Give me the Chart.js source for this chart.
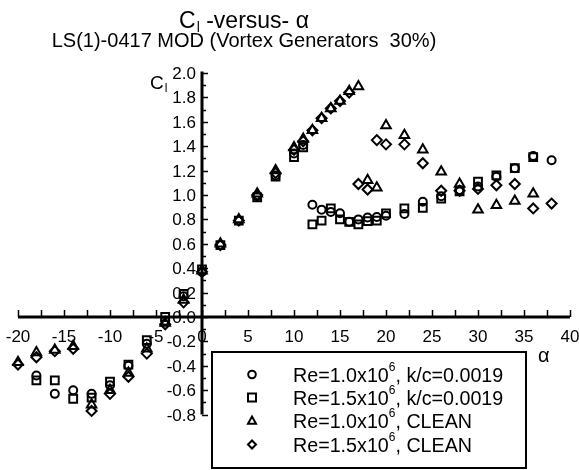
<!DOCTYPE html>
<html>
<head>
<meta charset="utf-8">
<script src="https://cdn.jsdelivr.net/npm/chart.js@4.4.1/dist/chart.umd.min.js"></script>
<style>
  html, body { margin: 0; padding: 0; background: #fff; }
  #wrap { width: 579px; height: 470px; }
</style>
</head>
<body>
<div id="wrap"><canvas id="clChart" width="579" height="470"></canvas></div>
<script>
const FONT = '"Liberation Sans", Arial, Helvetica, sans-serif';

// Re=1.0x10^6, k/c=0.0019 (circles)
const alphaKc10 = [-18, -16, -14, -12, -10, -8, -6, -4, -2, 0, 2, 4, 6, 8, 10, 11, 12, 13, 14, 15, 16, 17, 18, 19, 20, 22, 24, 26, 28, 30, 32, 34, 36, 38];
const clKc10 = [-0.48, -0.63, -0.60, -0.63, -0.56, -0.40, -0.22, -0.03, 0.17, 0.37, 0.59, 0.79, 0.99, 1.16, 1.34, 1.41, 0.92, 0.88, 0.86, 0.85, 0.78, 0.80, 0.815, 0.82, 0.83, 0.845, 0.945, 0.99, 1.04, 1.07, 1.15, 1.22, 1.32, 1.285];

// Re=1.5x10^6, k/c=0.0019 (squares)
const alphaKc15 = [-18, -16, -14, -12, -10, -8, -6, -4, -2, 0, 2, 4, 6, 8, 10, 11, 12, 13, 14, 15, 16, 17, 18, 19, 20, 22, 24, 26, 28, 30, 32, 34, 36];
const clKc15 = [-0.52, -0.52, -0.67, -0.66, -0.53, -0.39, -0.19, 0.00, 0.19, 0.39, 0.59, 0.79, 0.98, 1.15, 1.31, 1.39, 0.76, 0.79, 0.89, 0.80, 0.78, 0.76, 0.785, 0.79, 0.85, 0.89, 0.895, 0.97, 1.03, 1.11, 1.16, 1.22, 1.31];

// Re=1.0x10^6, clean (triangles)
const alphaCl10 = [-20, -18, -16, -14, -12, -10, -8, -6, -4, -2, 0, 2, 4, 6, 8, 10, 11, 12, 13, 14, 15, 16, 17, 18, 19, 20, 22, 24, 26, 28, 30, 32, 34, 36];
const clCl10 = [-0.37, -0.29, -0.27, -0.24, -0.72, -0.60, -0.46, -0.26, -0.05, 0.14, 0.38, 0.60, 0.80, 1.01, 1.20, 1.39, 1.46, 1.53, 1.63, 1.71, 1.77, 1.85, 1.89, 1.12, 1.06, 1.57, 1.49, 1.37, 1.19, 1.09, 0.88, 0.915, 0.95, 1.01];

// Re=1.5x10^6, clean (diamonds)
const alphaCl15 = [-20, -18, -16, -14, -12, -10, -8, -6, -4, -2, 0, 2, 4, 6, 8, 10, 11, 12, 13, 14, 15, 16, 17, 18, 19, 20, 22, 24, 26, 28, 30, 32, 34, 36, 38];
const clCl15 = [-0.39, -0.33, -0.28, -0.26, -0.77, -0.63, -0.49, -0.30, -0.06, 0.12, 0.37, 0.59, 0.79, 1.00, 1.18, 1.37, 1.44, 1.53, 1.63, 1.71, 1.77, 1.84, 1.09, 1.045, 1.45, 1.415, 1.415, 1.26, 1.035, 1.035, 1.05, 1.08, 1.09, 0.89, 0.93];

// axis tick labels
const xTickLabels = ['-20', '-15', '-10', '-5', '0', '5', '10', '15', '20', '25', '30', '35', '40'];
const yTickLabels = ['-0.8', '-0.6', '-0.4', '-0.2', '0.0', '0.2', '0.4', '0.6', '0.8', '1.0', '1.2', '1.4', '1.6', '1.8', '2.0'];

// legend text, "^" marks a one-character superscript
const legendLabels = ['Re=1.0x10^6, k/c=0.0019', 'Re=1.5x10^6, k/c=0.0019', 'Re=1.0x10^6, CLEAN', 'Re=1.5x10^6, CLEAN'];
const markerStyles = ['circle', 'rect', 'triangle', 'rectRot'];
const markerSizes = [4, 5.5, 5.5, 5];

const titleMain = ['C', 'l', ' -versus- \u03B1'];
const titleSub = 'LS(1)-0417 MOD (Vortex Generators  30%)';

function toPoints(xs, ys) {
  return xs.map((x, i) => ({ x: x, y: ys[i] }));
}

const seriesData = [
  toPoints(alphaKc10, clKc10),
  toPoints(alphaKc15, clKc15),
  toPoints(alphaCl10, clCl10),
  toPoints(alphaCl15, clCl15)
];

const datasets = seriesData.map((pts, i) => ({
  label: legendLabels[i],
  data: pts,
  clip: false,
  pointStyle: markerStyles[i],
  pointRadius: markerSizes[i],
  pointBorderWidth: 2,
  pointBorderColor: '#000',
  pointBackgroundColor: 'rgba(0,0,0,0)'
}));

// draw text with a lowered small second part (C + l)
function drawSubscripted(ctx, x, y, main, sub, size) {
  ctx.font = size + 'px ' + FONT;
  ctx.fillText(main, x, y);
  const w = ctx.measureText(main).width;
  ctx.font = Math.round(size * 0.62) + 'px ' + FONT;
  ctx.fillText(sub, x + w + 1, y + size * 0.18);
  return w + 1 + ctx.measureText(sub).width;
}

function drawMarker(ctx, style, x, y, r) {
  ctx.beginPath();
  if (style === 'circle') {
    ctx.arc(x, y, r, 0, Math.PI * 2);
  } else if (style === 'rect') {
    ctx.rect(x - r, y - r, 2 * r, 2 * r);
  } else if (style === 'triangle') {
    ctx.moveTo(x, y - r * 1.1);
    ctx.lineTo(x + r, y + r * 0.7);
    ctx.lineTo(x - r, y + r * 0.7);
    ctx.closePath();
  } else {
    ctx.moveTo(x, y - r);
    ctx.lineTo(x + r, y);
    ctx.lineTo(x, y + r);
    ctx.lineTo(x - r, y);
    ctx.closePath();
  }
  ctx.stroke();
}

const decor = {
  id: 'decor',
  afterDraw(chart) {
    const ctx = chart.ctx;
    const xs = chart.scales.x;
    const ys = chart.scales.y;
    const x0 = xs.getPixelForValue(0);
    const y0 = ys.getPixelForValue(0);
    ctx.save();
    ctx.strokeStyle = '#000';
    ctx.fillStyle = '#000';

    // axes crossing at the origin
    ctx.lineWidth = 3;
    ctx.beginPath();
    ctx.moveTo(xs.getPixelForValue(xs.min), y0);
    ctx.lineTo(xs.getPixelForValue(xs.max), y0);
    ctx.moveTo(x0, ys.getPixelForValue(ys.max) - 1.5);
    ctx.lineTo(x0, ys.getPixelForValue(ys.min));
    ctx.stroke();

    // tick marks on the inside of the axes
    ctx.lineWidth = 1.5;
    for (let v = xs.min; v <= xs.max; v += 2.5) {
      const px = Math.round(xs.getPixelForValue(v)) + 0.5;
      ctx.beginPath();
      ctx.moveTo(px, y0);
      ctx.lineTo(px, y0 - 7);
      ctx.stroke();
    }
    for (let k = -8; k <= 20; k++) {
      const py = Math.round(ys.getPixelForValue(k / 10)) + 0.5;
      ctx.beginPath();
      ctx.moveTo(x0, py);
      ctx.lineTo(x0 + (k % 2 === 0 ? 6 : 4), py);
      ctx.stroke();
    }

    // tick labels
    ctx.font = '17px ' + FONT;
    ctx.textBaseline = 'alphabetic';
    ctx.textAlign = 'center';
    xTickLabels.forEach((t) => {
      ctx.fillText(t, xs.getPixelForValue(Number(t)), y0 + 25);
    });
    ctx.textAlign = 'right';
    yTickLabels.forEach((t) => {
      ctx.fillText(t, x0 - 6, ys.getPixelForValue(Number(t)) + 6);
    });

    // titles
    ctx.textAlign = 'left';
    ctx.font = '23px ' + FONT;
    const cw = ctx.measureText(titleMain[0]).width;
    ctx.font = '14px ' + FONT;
    const lw = ctx.measureText(titleMain[1]).width;
    ctx.font = '23px ' + FONT;
    const tw = ctx.measureText(titleMain[2]).width;
    let tx = 244 - (cw + 1 + lw + tw) / 2;
    tx += drawSubscripted(ctx, tx, 28, titleMain[0], titleMain[1], 23);
    ctx.font = '23px ' + FONT;
    ctx.fillText(titleMain[2], tx, 28);

    ctx.font = '20px ' + FONT;
    ctx.textAlign = 'center';
    ctx.fillText(titleSub, 244, 47);

    // axis names
    ctx.textAlign = 'left';
    drawSubscripted(ctx, 150, 89, 'C', 'l', 19);
    ctx.font = '20px ' + FONT;
    ctx.fillText('\u03B1', 538, 362);

    // legend box
    const bx = 212, by = 352, bw = 314, bh = 116;
    ctx.fillStyle = '#fff';
    ctx.fillRect(bx, by, bw, bh);
    ctx.lineWidth = 2;
    ctx.strokeRect(bx, by, bw, bh);
    ctx.fillStyle = '#000';
    const baselines = [381.5, 404.5, 428, 451.5];
    legendLabels.forEach((lab, i) => {
      ctx.lineWidth = 2;
      drawMarker(ctx, markerStyles[i], 252, baselines[i] - 7, i === 0 ? 3.8 : 4);
      const parts = lab.split('^');
      let px = 293;
      ctx.font = '19.7px ' + FONT;
      ctx.fillText(parts[0], px, baselines[i]);
      px += ctx.measureText(parts[0]).width;
      if (parts.length > 1) {
        const sup = parts[1].charAt(0);
        const rest = parts[1].slice(1);
        ctx.font = '12px ' + FONT;
        ctx.fillText(sup, px, baselines[i] - 11);
        px += ctx.measureText(sup).width;
        ctx.font = '19.7px ' + FONT;
        ctx.fillText(rest, px, baselines[i]);
      }
    });
    ctx.restore();
  }
};

new Chart(document.getElementById('clChart'), {
  type: 'scatter',
  data: { datasets: datasets },
  options: {
    responsive: false,
    animation: false,
    layout: { padding: { left: 18, right: 9, top: 73, bottom: 55.4 } },
    plugins: {
      legend: { display: false },
      title: { display: false },
      tooltip: { enabled: false }
    },
    scales: {
      x: { type: 'linear', display: false, min: -20, max: 40 },
      y: { type: 'linear', display: false, min: -0.8, max: 2.0 }
    }
  },
  plugins: [decor]
});
</script>
</body>
</html>
